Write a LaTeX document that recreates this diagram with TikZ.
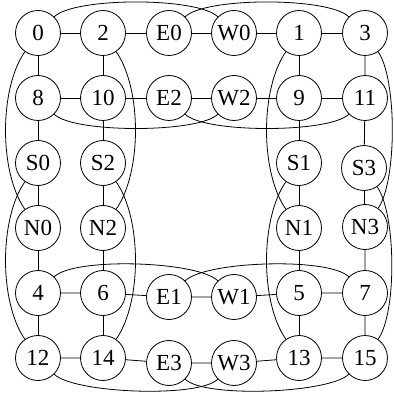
\documentclass[tikz,border=0pt]{standalone}
\usepackage{fontspec}
\setmainfont{Liberation Serif}[Scale=2.3]
\begin{document}
\begin{tikzpicture}[x=1pt,y=-1pt,
  vert/.style={draw, circle, minimum size=45pt, inner sep=0pt, line width=0.8pt, font=\normalsize},
  edge/.style={line width=0.8pt},
  hover/.style={out=45, in=135, distance=28pt},
  hunder/.style={out=-45, in=-135, distance=27pt},
  vleft/.style={out=235, in=125, distance=45pt},
  vright/.style={out=-55, in=55, distance=45pt},
  vrightout/.style={out=-55, in=55, distance=33pt}]
\useasboundingbox (0,0) rectangle (394,393);
% row 1
\node[vert] (n0)  at (38,33)  {0};
\node[vert] (n2)  at (103,33) {2};
\node[vert] (E0)  at (169,33) {E0};
\node[vert] (W0)  at (234,33) {W0};
\node[vert] (n1)  at (299,33) {1};
\node[vert] (n3)  at (365,33) {3};
% row 2
\node[vert] (n8)  at (38,98)  {8};
\node[vert] (n10) at (103,98) {10};
\node[vert] (E2)  at (169,98) {E2};
\node[vert] (W2)  at (234,98) {W2};
\node[vert] (n9)  at (299,98) {9};
\node[vert] (n11) at (365,98) {11};
% row 3
\node[vert] (S0)  at (38,163)  {S0};
\node[vert] (S2)  at (103,163) {S2};
\node[vert] (S1)  at (299,163) {S1};
\node[vert] (S3)  at (364,168) {S3};
% row 4
\node[vert] (N0)  at (38,228)  {N0};
\node[vert] (N2)  at (103,228) {N2};
\node[vert] (N1)  at (299,228) {N1};
\node[vert] (N3)  at (365,227) {N3};
% row 5
\node[vert] (n4)  at (38,293)  {4};
\node[vert] (n6)  at (103,293) {6};
\node[vert] (E1)  at (169,297) {E1};
\node[vert] (W1)  at (234,297) {W1};
\node[vert] (n5)  at (299,293) {5};
\node[vert] (n7)  at (365,293) {7};
% row 6
\node[vert] (n12) at (38,358)  {12};
\node[vert] (n14) at (103,358) {14};
\node[vert] (E3)  at (169,363) {E3};
\node[vert] (W3)  at (234,363) {W3};
\node[vert] (n13) at (299,358) {13};
\node[vert] (n15) at (365,358) {15};
% horizontal straight
\draw[edge] (n0) -- (n2) (n2) -- (E0) (E0) -- (W0) (W0) -- (n1) (n1) -- (n3);
\draw[edge] (n8) -- (n10) (n10) -- (E2) (E2) -- (W2) (W2) -- (n9) (n9) -- (n11);
\draw[edge] (n4) -- (n6) (n6) -- (E1) (E1) -- (W1) (W1) -- (n5) (n5) -- (n7);
\draw[edge] (n12) -- (n14) (n14) -- (E3) (E3) -- (W3) (W3) -- (n13) (n13) -- (n15);
% vertical straight
\draw[edge] (n0) -- (n8) (n8) -- (S0) (S0) -- (N0) (N0) -- (n4) (n4) -- (n12);
\draw[edge] (n2) -- (n10) (n10) -- (S2) (S2) -- (N2) (N2) -- (n6) (n6) -- (n14);
\draw[edge] (n1) -- (n9) (n9) -- (S1) (S1) -- (N1) (N1) -- (n5) (n5) -- (n13);
\draw[edge] (n3) -- (n11) (n11) -- (S3) (S3) -- (N3) (N3) -- (n7) (n7) -- (n15);
% horizontal curves
\draw[edge] (n0) to[hover] (W0);
\draw[edge] (E0) to[hover] (n3);
\draw[edge] (n8) to[hunder] (W2);
\draw[edge] (E2) to[hunder] (n11);
\draw[edge] (n4) to[hover] (W1);
\draw[edge] (E1) to[hover] (n7);
\draw[edge] (n12) to[hunder] (W3);
\draw[edge] (E3) to[hunder] (n15);
% vertical curves
\draw[edge] (n0) to[vleft] (N0);
\draw[edge] (S0) to[vleft] (n12);
\draw[edge] (n2) to[vright] (N2);
\draw[edge] (S2) to[vright] (n14);
\draw[edge] (n1) to[vleft] (N1);
\draw[edge] (S1) to[vleft] (n13);
\draw[edge] (n3) to[vrightout] (N3);
\draw[edge] (S3) to[vrightout] (n15);
\end{tikzpicture}
\end{document}
